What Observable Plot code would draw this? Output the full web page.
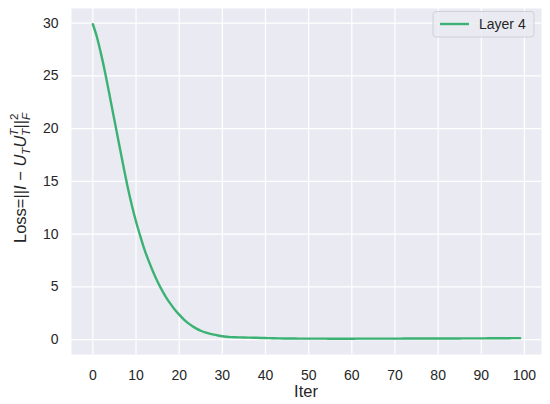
<!DOCTYPE html>
<html>
<head>
<meta charset="utf-8">
<script src="https://cdn.jsdelivr.net/npm/d3@7"></script>
<script src="https://cdn.jsdelivr.net/npm/@observablehq/plot@0.6"></script>
<style>
  html, body { margin: 0; padding: 0; background: #ffffff; }
  #chart { position: relative; width: 550px; height: 404px; }
</style>
</head>
<body>
<div id="chart"></div>
<script>
// ---- data ----
const seriesName = "Layer 4";
const lossValues = [
  29.9, 28.6, 26.9, 25.0, 22.9, 20.8, 18.7, 16.6, 14.6, 12.8,
  11.2, 9.8, 8.5, 7.4, 6.4, 5.5, 4.7, 4.0, 3.4, 2.85,
  2.38, 1.96, 1.6, 1.3, 1.05, 0.85, 0.7, 0.58, 0.48, 0.4,
  0.33, 0.28, 0.25, 0.23, 0.22, 0.21, 0.2, 0.19, 0.18, 0.17,
  0.16, 0.15, 0.14, 0.13, 0.12, 0.12, 0.11, 0.11, 0.1, 0.1,
  0.1, 0.1, 0.1, 0.1, 0.1, 0.09, 0.09, 0.09, 0.09, 0.09,
  0.09, 0.1, 0.1, 0.1, 0.1, 0.1, 0.1, 0.1, 0.1, 0.1,
  0.1, 0.1, 0.11, 0.11, 0.11, 0.11, 0.11, 0.11, 0.11, 0.11,
  0.11, 0.12, 0.12, 0.12, 0.12, 0.12, 0.13, 0.13, 0.13, 0.13,
  0.13, 0.13, 0.14, 0.14, 0.14, 0.14, 0.14, 0.15, 0.15, 0.15
];
const iters = lossValues.map((_, i) => i);
const xTicks = [0, 10, 20, 30, 40, 50, 60, 70, 80, 90, 100];
const yTicks = [0, 5, 10, 15, 20, 25, 30];
const xLabel = "Iter";

const data = iters.map((it, i) => ({iter: it, loss: lossValues[i]}));

// ---- layout ----
const W = 550, H = 404;
const mL = 71, mR = 9, mT = 8, mB = 50;
const lineColor = "#3bb273";
const font = "'Liberation Sans', Arial, sans-serif";
const textColor = "#262626";

const xMin = d3.min(iters), xMax = d3.max(iters);
const yMin = d3.min(lossValues), yMax = d3.max(lossValues);
const xPad = (xMax - xMin) * 0.05, yPad = (yMax - yMin) * 0.05;

const plot = Plot.plot({
  width: W, height: H,
  marginLeft: mL, marginRight: mR, marginTop: mT, marginBottom: mB,
  style: {fontFamily: font, fontSize: "14px", color: textColor, background: "#ffffff"},
  x: {domain: [xMin - xPad, xMax + xPad], ticks: xTicks, tickSize: 0, tickPadding: 16, label: null},
  y: {domain: [yMin - yPad, yMax + yPad], ticks: yTicks, tickSize: 0, tickPadding: 13, label: null},
  marks: [
    Plot.frame({fill: "#eaeaf2", stroke: null}),
    Plot.gridX(xTicks, {stroke: "#ffffff", strokeOpacity: 1, strokeWidth: 1.2}),
    Plot.gridY(yTicks, {stroke: "#ffffff", strokeOpacity: 1, strokeWidth: 1.2}),
    Plot.line(data, {x: "iter", y: "loss", stroke: lineColor, strokeWidth: 2.4, curve: "monotone-x"})
  ]
});
document.getElementById("chart").appendChild(plot);

const svg = d3.select(plot);
svg.selectAll("g[aria-label='x-axis tick label'] text, g[aria-label='y-axis tick label'] text")
  .attr("fill", textColor);

const cx = mL + (W - mL - mR) / 2;
// x label
svg.append("text")
  .attr("x", cx).attr("y", 397)
  .attr("text-anchor", "middle")
  .attr("font-family", font).attr("font-size", 16.5)
  .attr("fill", textColor)
  .text(xLabel);

// y label (math)
const yl = svg.append("text")
  .attr("transform", `translate(26,178) rotate(-90)`)
  .attr("text-anchor", "middle")
  .attr("font-family", font).attr("font-size", 16.5)
  .attr("fill", textColor);
yl.append("tspan").text("Loss=||");
yl.append("tspan").attr("font-style", "italic").text("I");
yl.append("tspan").text(" \u2212 ");
yl.append("tspan").attr("font-style", "italic").text("U");
yl.append("tspan").attr("font-style", "italic").attr("font-size", 11.5).attr("dy", 4).text("T");
yl.append("tspan").attr("font-style", "italic").attr("dy", -4).text("U");
yl.append("tspan").attr("font-style", "italic").attr("font-size", 11.5).attr("dy", -8).text("T");
yl.append("tspan").attr("font-style", "italic").attr("font-size", 11.5).attr("dx", -7).attr("dy", 12).text("T");
yl.append("tspan").attr("dy", -4).text("||");
yl.append("tspan").attr("font-style", "italic").attr("font-size", 11.5).attr("dy", 4).text("F");
yl.append("tspan").attr("font-size", 11.5).attr("dx", -7).attr("dy", -12).text("2");

// legend
const lg = svg.append("g");
lg.append("rect")
  .attr("x", 433).attr("y", 11.5).attr("width", 101).attr("height", 25.5)
  .attr("rx", 3).attr("ry", 3)
  .attr("fill", "#eaeaf2").attr("fill-opacity", 0.85)
  .attr("stroke", "#d0d0d6").attr("stroke-width", 1);
lg.append("line")
  .attr("x1", 440).attr("x2", 469).attr("y1", 24).attr("y2", 24)
  .attr("stroke", lineColor).attr("stroke-width", 2.4);
lg.append("text")
  .attr("x", 479).attr("y", 29)
  .attr("text-anchor", "start")
  .attr("font-family", font).attr("font-size", 14)
  .attr("fill", textColor)
  .text(seriesName);
</script>
</body>
</html>
